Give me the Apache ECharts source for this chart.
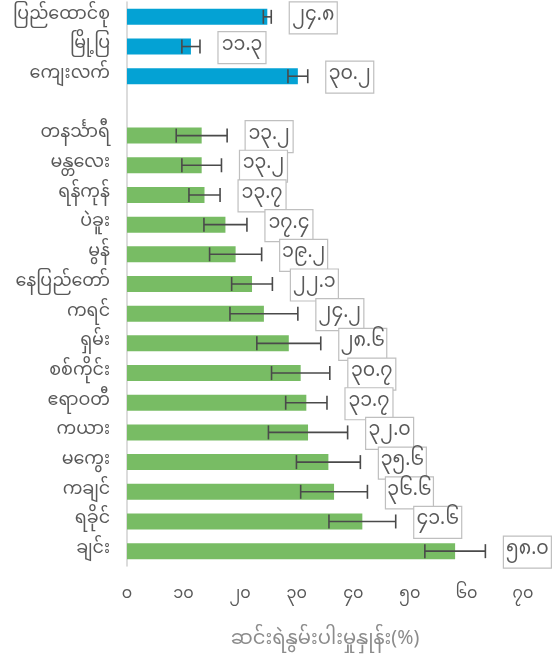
<!DOCTYPE html>
<html>
<head>
<meta charset="utf-8">
<script src="https://cdn.jsdelivr.net/npm/echarts@6/dist/echarts.min.js"></script>
<style>
html,body{margin:0;padding:0;background:#fff;}
#chart{width:555px;height:659px;}
</style>
</head>
<body>
<div id="chart"></div>
<script>
// Categories, top to bottom ('' is the empty spacer row)
const categories = ['ပြည်ထောင်စု','မြို့ပြ','ကျေးလက်','','တနင်္သာရီ','မန္တလေး','ရန်ကုန်','ပဲခူး','မွန်','နေပြည်တော်','ကရင်','ရှမ်း','စစ်ကိုင်း','ဧရာဝတီ','ကယား','မကွေး','ကချင်','ရခိုင်','ချင်း'];
// Poverty rate (%)
const values = [24.8, 11.3, 30.2, null, 13.2, 13.2, 13.7, 17.4, 19.2, 22.1, 24.2, 28.6, 30.7, 31.7, 32.0, 35.6, 36.6, 41.6, 58.0];
// Error margins (+/-)
const errorMargins = [0.7, 1.6, 1.75, null, 4.5, 3.5, 2.75, 3.8, 4.6, 3.6, 6.0, 5.65, 5.15, 3.65, 7.0, 5.65, 5.9, 5.9, 5.35];
// Group: 0 = national/urban/rural, 1 = state/region
const groups = [0, 0, 0, null, 1, 1, 1, 1, 1, 1, 1, 1, 1, 1, 1, 1, 1, 1, 1];
// X axis ticks
const xTicks = [0, 10, 20, 30, 40, 50, 60, 70];
const xTitle = 'ဆင်းရဲနွမ်းပါးမှုနှုန်း(%)';

const MY_DIGITS = ['၀','၁','၂','၃','၄','၅','၆','၇','၈','၉'];
function toMy(s){ return String(s).replace(/[0-9]/g, d => MY_DIGITS[+d]); }

const COLORS = ['#04a2d4', '#78bc64'];
const FONT = '"Noto Sans Myanmar","Myanmar Text","Padauk","Noto Sans","DejaVu Sans",sans-serif';

const barData = values.map((v, i) => v == null ? null : {
  value: v,
  itemStyle: { color: COLORS[groups[i]] }
});
const errData = [];
values.forEach((v, i) => {
  if (v != null) errData.push([v - errorMargins[i], v + errorMargins[i], i, v]);
});

const chart = echarts.init(document.getElementById('chart'), null, {renderer: 'canvas'});
chart.setOption({
  animation: false,
  backgroundColor: '#fff',
  grid: { left: 127, right: 32, top: 2, bottom: 93, containLabel: false },
  xAxis: {
    type: 'value',
    min: xTicks[0],
    max: xTicks[xTicks.length - 1],
    interval: 10,
    axisLine: { show: false },
    axisTick: { show: false },
    splitLine: { show: false },
    axisLabel: {
      margin: 22,
      color: '#595959',
      fontSize: 16,
      fontFamily: FONT,
      formatter: v => toMy(v)
    },
    name: xTitle,
    nameLocation: 'middle',
    nameGap: 66,
    nameTextStyle: { color: '#8c8c8c', fontSize: 19.5, fontFamily: FONT }
  },
  yAxis: {
    type: 'category',
    inverse: true,
    data: categories,
    axisLine: { show: true, lineStyle: { color: '#d0d0d0', width: 1.5 } },
    axisTick: { show: false },
    axisLabel: {
      margin: 17,
      color: '#595959',
      fontSize: 17.5,
      fontFamily: FONT
    }
  },
  series: [
    {
      type: 'bar',
      data: barData,
      barWidth: 16,
      z: 2
    },
    {
      type: 'custom',
      data: errData,
      encode: { x: [0, 1], y: 2 },
      z: 5,
      renderItem: function (params, api) {
        const cat = api.value(2);
        const lo = api.coord([api.value(0), cat]);
        const hi = api.coord([api.value(1), cat]);
        const cap = 7;
        const lineStyle = { stroke: '#4a4a4a', lineWidth: 1.6 };
        const bx = hi[0] + 18;
        const by = hi[1] - 15;
        return {
          type: 'group',
          children: [
            { type: 'line', shape: { x1: lo[0], y1: lo[1], x2: hi[0], y2: hi[1] }, style: lineStyle },
            { type: 'line', shape: { x1: lo[0], y1: lo[1] - cap, x2: lo[0], y2: lo[1] + cap }, style: lineStyle },
            { type: 'line', shape: { x1: hi[0], y1: hi[1] - cap, x2: hi[0], y2: hi[1] + cap }, style: lineStyle },
            { type: 'rect', shape: { x: bx, y: by, width: 48, height: 32 }, style: { fill: '#ffffff', stroke: '#bfbfbf', lineWidth: 1.2 } },
            { type: 'text', style: {
                x: bx + 24, y: by + 16,
                text: toMy(api.value(3).toFixed(1)),
                align: 'center', verticalAlign: 'middle',
                fill: '#595959', fontSize: 19, fontFamily: FONT
            } }
          ]
        };
      }
    }
  ]
});
</script>
</body>
</html>
